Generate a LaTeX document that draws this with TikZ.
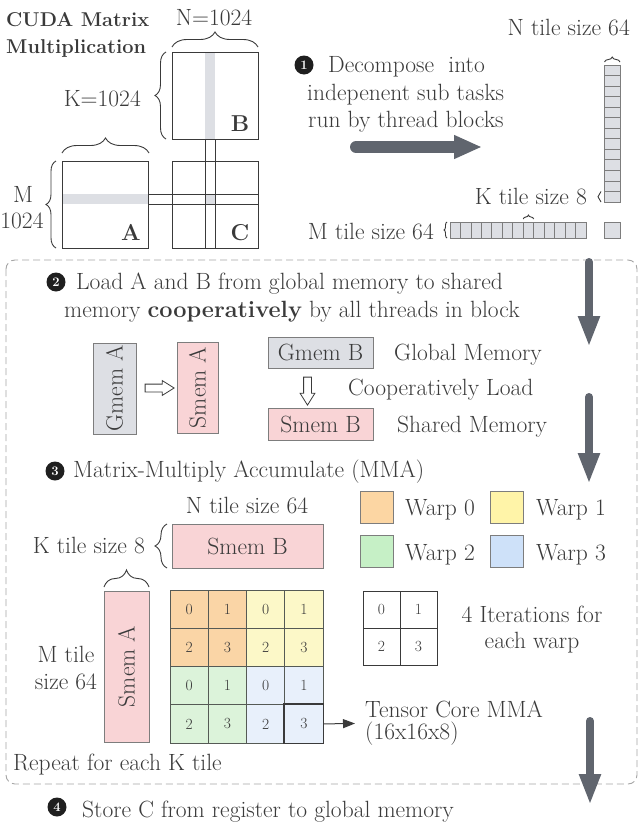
\documentclass[tikz,border=0pt]{standalone}
\usepackage{tikz}
\usetikzlibrary{arrows.meta,calc,decorations.pathreplacing,shapes.arrows}
\definecolor{txt}{RGB}{58,58,58}
\definecolor{bdr}{RGB}{125,125,125}
\definecolor{gmem}{RGB}{221,223,228}
\definecolor{smem}{RGB}{249,212,214}
\definecolor{flowgray}{RGB}{96,101,110}
\definecolor{dashgray}{RGB}{165,165,165}
\definecolor{cellline}{RGB}{85,90,85}
\definecolor{c0}{RGB}{250,213,166}
\definecolor{c1}{RGB}{252,248,200}
\definecolor{c2}{RGB}{220,243,218}
\definecolor{c3}{RGB}{232,240,251}
\definecolor{k0}{RGB}{252,214,163}
\definecolor{k1}{RGB}{255,244,168}
\definecolor{k2}{RGB}{198,240,198}
\definecolor{k3}{RGB}{206,225,249}
\tikzstyle{lbl}=[text=txt,inner sep=0pt,font=\fontsize{23.5}{28}\selectfont]
\tikzstyle{ttl}=[text=txt,inner sep=0pt,font=\bfseries\fontsize{20}{27}\selectfont]
\tikzstyle{mat}=[draw=txt,line width=1pt,inner sep=0pt,minimum width=86pt,minimum height=87pt]
\tikzstyle{gm}=[draw=bdr,fill=gmem,line width=0.9pt,inner sep=0pt,text=txt,
  font=\fontsize{23.5}{28}\selectfont]
\tikzstyle{sm}=[draw=bdr,fill=smem,line width=0.9pt,inner sep=0pt,text=txt,
  font=\fontsize{23.5}{28}\selectfont]
\tikzstyle{tile}=[draw=bdr,fill=gmem,line width=0.8pt]
\tikzstyle{num}=[circle,fill=black!88,text=white,inner sep=0pt,minimum size=19pt,
  font=\bfseries\fontsize{13}{13}\selectfont]
\tikzstyle{cell}=[draw=cellline,line width=0.9pt,inner sep=0pt,minimum size=38.25pt,
  text=txt,font=\fontsize{15.5}{15.5}\selectfont]
\tikzstyle{swatch}=[draw=bdr,line width=0.9pt,inner sep=0pt,minimum width=33pt,minimum height=32pt]
\tikzstyle{flow}=[draw=flowgray,line cap=round]
\tikzstyle{hollow}=[single arrow,draw=txt,fill=white,line width=0.8pt,inner xsep=0pt,
  inner ysep=3.5pt,minimum height=29pt,single arrow head extend=3.5pt,single arrow tip angle=64]
\tikzset{brc/.style={decorate,decoration={brace,amplitude=#1},draw=txt,line width=0.9pt}}

\begin{document}
\begin{tikzpicture}[x=1pt,y=-1pt]
            \useasboundingbox (0,0) rectangle (640,822);
            % the whole product C = A B
            \fill [gmem] (62,194) rectangle (149,204);
            \fill [gmem] (205,52) rectangle (215,139);
            \fill [gmem] (205,194) rectangle (215,204);
            \node [style=mat] (0) at (105.5,204.5) {};
            \node [style=mat] (1) at (215,95.5) {};
            \node [style=mat] (2) at (215,204.5) {};
            \draw [draw=txt, line width=1pt] (149,194) -- (258,194) (149,204) -- (258,204);
            \draw [draw=txt, line width=1pt] (205,139) -- (205,248) (215,139) -- (215,248);
            \node [style=ttl, anchor=base, font=\bfseries\fontsize{23}{27}\selectfont] (3) at (131,240) {A};
            \node [style=ttl, anchor=base, font=\bfseries\fontsize{23}{27}\selectfont] (4) at (240,131) {B};
            \node [style=ttl, anchor=base, font=\bfseries\fontsize{23}{27}\selectfont] (5) at (240,240) {C};
            \draw [brc=15] (172,47) -- (258,47);
            \draw [brc=11] (166,139) -- (166,52);
            \draw [brc=15] (62,153) -- (149,153);
            \draw [brc=10] (56,248) -- (56,161);
            \node [style=lbl, anchor=base] (6) at (214,25) {N=1024};
            \node [style=lbl, anchor=base east] (7) at (141,106) {K=1024};
            \node [style=lbl, anchor=base] (8) at (23,202) {M};
            \node [style=lbl, anchor=base] (9) at (22,228) {1024};
            \node [style=ttl, anchor=base west] (10) at (6,26) {CUDA Matrix};
            \node [style=ttl, anchor=base west] (11) at (6,53) {Multiplication};

            % step 1
            \node [style=num] (12) at (304,65) {1};
            \node [style=lbl, anchor=base west] (13) at (328,72) {Decompose~ into};
            \node [style=lbl, anchor=base west] (14) at (307,100) {indepenent sub tasks};
            \node [style=lbl, anchor=base west] (15) at (308,127) {run by thread blocks};
            \draw [style=flow, line width=12pt, -{Triangle[width=22pt,length=28pt]}] (356,147) -- (482,147);
            \node [style=lbl, anchor=base east] (16) at (630,35) {N tile size 64};
            \foreach \i in {0,...,12}
              \draw [style=tile] (604.5,{65+10.54*\i}) rectangle (620,{65+10.54*(\i+1)});
            \foreach \i in {0,...,12}
              \draw [style=tile] ({450+10.46*\i},222) rectangle ({450+10.46*(\i+1)},238);
            \node [style=tile, minimum size=16pt, inner sep=0pt] (19) at (612,230) {};
            \draw [brc=5] (604.5,62) -- (620,62);
            \draw [brc=3] (601,202) -- (601,191.5);
            \draw [brc=4] (523.2,219) -- (533.7,219);
            \draw [brc=3] (447,238) -- (447,222);
            \node [style=lbl, anchor=base east] (17) at (587,204) {K tile size 8};
            \node [style=lbl, anchor=base east] (18) at (434,239) {M tile size 64};

            % step 2
            \draw [draw=dashgray, line width=0.9pt, dash pattern=on 7pt off 4pt, rounded corners=9pt]
              (6,260) rectangle (637,784);
            \draw [style=flow, line width=8pt, -{Triangle[width=20pt,length=31pt]}] (589,262) -- (589,347);
            \node [style=num] (20) at (56,282) {2};
            \node [style=lbl, anchor=base west] (21) at (76,289) {Load A and B from global memory to shared};
            \node [style=lbl, anchor=base west] (22) at (64,317) {memory \textbf{cooperatively} by all threads in block};
            \node [style=gm, rotate=90, minimum width=91pt, minimum height=43pt] (23) at (114.5,388.5) {Gmem A};
            \node [style=sm, rotate=90, minimum width=91pt, minimum height=41pt] (24) at (197.5,387.5) {Smem A};
            \node [style=gm, minimum width=105pt, minimum height=31pt] (25) at (320.5,352.5) {Gmem B};
            \node [style=sm, minimum width=105pt, minimum height=32pt] (26) at (320.5,424) {Smem B};
            \node [style=hollow] (30) at ($(23.south)!0.5!(24.north)$) {};
            \node [style=hollow, rotate=-90, minimum height=28pt] (31) at (307.5,388) {};
            \node [style=lbl, anchor=base west] (27) at (394,360) {Global Memory};
            \node [style=lbl, anchor=base west] (28) at (348,395) {Cooperatively Load};
            \node [style=lbl, anchor=base west] (29) at (397,432) {Shared Memory};
            \draw [style=flow, line width=8pt, -{Triangle[width=20pt,length=31pt]}] (589,397) -- (589,484);

            % step 3
            \node [style=num] (32) at (55,471) {3};
            \node [style=lbl, anchor=base west] (33) at (73,477) {Matrix-Multiply Accumulate (MMA)};
            \node [style=lbl, anchor=base] (34) at (247,513) {N tile size 64};
            \node [style=sm, minimum width=151pt, minimum height=44pt] (35) at (247.5,546) {Smem B};
            \draw [brc=12] (167,568) -- (167,524);
            \node [style=lbl, anchor=base east] (36) at (145,553) {K tile size 8};
            \node [style=sm, rotate=90, minimum width=151pt, minimum height=45pt] (37) at (126.5,666.5) {Smem A};
            \draw [brc=17] (104,587) -- (149,587);
            \node [style=lbl, anchor=base] (38) at (66,662) {M tile};
            \node [style=lbl, anchor=base] (39) at (66,689) {size 64};
            \foreach \r in {0,...,3}
              \foreach \c in {0,...,3} {
                \pgfmathtruncatemacro{\w}{2*(\r>1)+(\c>1)}
                \pgfmathtruncatemacro{\k}{2*mod(\r,2)+mod(\c,2)}
                \node [style=cell, fill=c\w] (g\r\c) at ({170+38.25*(\c+0.5)},{590+38.25*(\r+0.5)}) {\k};
              }
            \draw [draw=txt, line width=1.8pt] (g33.north west) rectangle (g33.south east);
            \coordinate (55) at (355,723.5);
            \draw [draw=txt, line width=1pt, -{Triangle[width=9pt,length=12pt]}] (g33.east) -- (55);
            \node [style=lbl, anchor=base west] (50) at (365,717) {Tensor Core MMA};
            \node [style=lbl, anchor=base west] (51) at (365,739) {(16x16x8)};
            \node [style=swatch, fill=k0] (40) at (376.5,507) {};
            \node [style=swatch, fill=k1] (41) at (507,507) {};
            \node [style=swatch, fill=k2] (42) at (376.5,551.5) {};
            \node [style=swatch, fill=k3] (43) at (507,551.5) {};
            \node [style=lbl, anchor=base west] (44) at (405,515) {Warp 0};
            \node [style=lbl, anchor=base west] (45) at (536,515) {Warp 1};
            \node [style=lbl, anchor=base west] (46) at (405,560) {Warp 2};
            \node [style=lbl, anchor=base west] (47) at (536,560) {Warp 3};
            \foreach \r in {0,1}
              \foreach \c in {0,1} {
                \pgfmathtruncatemacro{\k}{2*\r+\c}
                \node [style=cell, fill=white, draw=txt, minimum size=37pt] (s\r\c) at ({363+37*(\c+0.5)},{591+37*(\r+0.5)}) {\k};
              }
            \node [style=lbl, anchor=base] (48) at (532,622) {4 Iterations for};
            \node [style=lbl, anchor=base] (49) at (532,648) {each warp};
            \node [style=lbl, anchor=base west] (52) at (13,770) {Repeat for each K tile};

            % step 4
            \draw [style=flow, line width=8pt, -{Triangle[width=20pt,length=31pt]}] (590,721) -- (590,805);
            \node [style=num] (53) at (57,807) {4};
            \node [style=lbl, anchor=base west] (54) at (82,817) {Store C from register to global memory};
    \end{tikzpicture}
\end{document}
